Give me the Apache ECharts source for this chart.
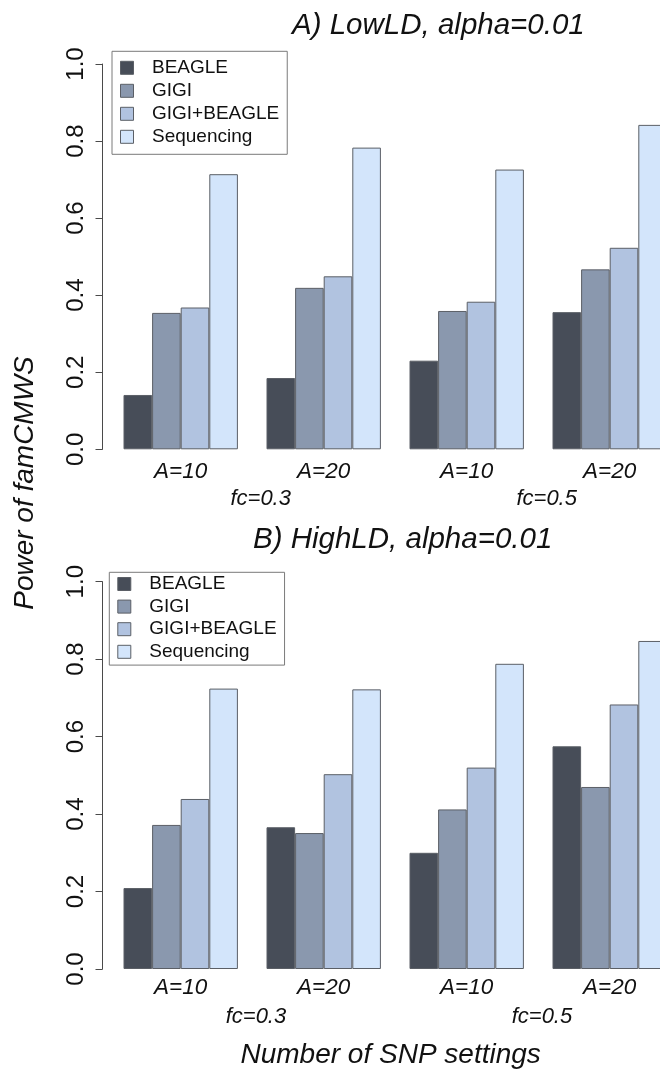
<!DOCTYPE html>
<html>
<head>
<meta charset="utf-8">
<script src="https://cdn.jsdelivr.net/npm/echarts@6/dist/echarts.min.js"></script>
<style>
  html, body { margin: 0; padding: 0; background: #ffffff; overflow: hidden; width: 660px; height: 1070px; }
  #chart { width: 700px; height: 1070px; }
</style>
</head>
<body>
<div id="chart"></div>
<script>
// ---- data ----
const groups = ['A=10', 'A=20', 'A=10', 'A=20'];
const fcLabels = ['fc=0.3', 'fc=0.5'];
const methods = ['BEAGLE', 'GIGI', 'GIGI+BEAGLE', 'Sequencing'];
const yTicks = [0, 0.2, 0.4, 0.6, 0.8, 1.0];

// Panel A: LowLD
const lowBEAGLE     = [0.141, 0.185, 0.230, 0.356];
const lowGIGI       = [0.354, 0.419, 0.359, 0.467];
const lowGIGIBEAGLE = [0.368, 0.449, 0.383, 0.523];
const lowSeq        = [0.714, 0.783, 0.726, 0.842];

// Panel B: HighLD
const highBEAGLE     = [0.209, 0.366, 0.300, 0.575];
const highGIGI       = [0.372, 0.351, 0.412, 0.470];
const highGIGIBEAGLE = [0.439, 0.503, 0.520, 0.683];
const highSeq        = [0.724, 0.722, 0.788, 0.847];

const titles = ['A) LowLD, alpha=0.01', 'B) HighLD, alpha=0.01'];
const yTitle = 'Power of famCMWS';
const xTitle = 'Number of SNP settings';

// ---- styling ----
const colors = ['#474d58', '#8a98ae', '#b1c3e0', '#d3e5fb'];
const FONT = '"Liberation Sans", Arial, Helvetica, sans-serif';
const INK = '#111111';
const AXIS = '#4a4a4a';

const lowData = [lowBEAGLE, lowGIGI, lowGIGIBEAGLE, lowSeq];
const highData = [highBEAGLE, highGIGI, highGIGIBEAGLE, highSeq];

const gridLeft = 109.2;
const gridWidth = 572;
const grids = [
  { left: gridLeft, top: 64, width: gridWidth, height: 385.3 },
  { left: gridLeft, top: 581.7, width: gridWidth, height: 387.3 }
];

function yAxisFor(gi) {
  return {
    type: 'value', gridIndex: gi, min: 0, max: 1, interval: 0.2,
    offset: 6.7,
    axisLine: { show: true, lineStyle: { color: AXIS, width: 1 } },
    axisTick: { show: true, length: 7, lineStyle: { color: AXIS, width: 1 } },
    splitLine: { show: false },
    axisLabel: {
      rotate: 90, margin: 14, fontSize: 24, fontFamily: FONT, color: INK,
      formatter: function (v) { return v.toFixed(1); }
    }
  };
}

function groupAxis(gi, margin) {
  return {
    type: 'category', gridIndex: gi, data: groups, position: 'bottom',
    axisLine: { show: false }, axisTick: { show: false },
    splitLine: { show: false },
    axisLabel: { margin: margin, fontSize: 22.5, fontStyle: 'italic', fontFamily: FONT, color: INK, interval: 0 }
  };
}
function fcAxis(gi, margin, shift) {
  return {
    type: 'category', gridIndex: gi, data: fcLabels, position: 'bottom',
    axisLine: { show: false }, axisTick: { show: false },
    splitLine: { show: false },
    axisLabel: { margin: margin, fontSize: 22, fontStyle: 'italic', fontFamily: FONT, color: INK, interval: 0,
                 padding: [0, 0, 0, shift] }
  };
}

const series = [];
[lowData, highData].forEach(function (panel, gi) {
  panel.forEach(function (vals, mi) {
    series.push({
      type: 'bar', name: methods[mi],
      xAxisIndex: gi * 2, yAxisIndex: gi,
      data: vals,
      barGap: '0%', barCategoryGap: '20%',
      itemStyle: { color: colors[mi], borderColor: '#5b5f66', borderWidth: 1 },
      emphasis: { disabled: true },
      animation: false
    });
  });
});

function legendFor(left, top, padding, gap) {
  return {
    data: methods, orient: 'vertical', left: left, top: top,
    padding: padding, itemGap: gap,
    itemWidth: 13, itemHeight: 13, icon: 'rect',
    itemStyle: { borderColor: '#5b5f66', borderWidth: 1 },
    borderColor: '#7a7a7a', borderWidth: 1, backgroundColor: '#ffffff',
    selectedMode: false,
    textStyle: { fontSize: 19, lineHeight: 19, fontFamily: FONT, color: INK, padding: [0, 0, 0, 13.5] }
  };
}

const option = {
  backgroundColor: '#ffffff',
  animation: false,
  color: colors,
  title: [
    { text: titles[0], left: 292, top: 10.5, padding: 0,
      textStyle: { fontSize: 29.5, fontStyle: 'italic', fontWeight: 'normal', fontFamily: FONT, color: INK } },
    { text: titles[1], left: 253, top: 524.5, padding: 0,
      textStyle: { fontSize: 29.5, fontStyle: 'italic', fontWeight: 'normal', fontFamily: FONT, color: INK } },
    { text: xTitle, left: 240.5, top: 1041, padding: 0,
      textStyle: { fontSize: 28, fontStyle: 'italic', fontWeight: 'normal', fontFamily: FONT, color: INK } }
  ],
  legend: [
    legendFor(112, 51.3, [7, 8, 8, 8], 4),
    legendFor(109.3, 572.3, [2.2, 8, 3.8, 8], 3.6)
  ],
  grid: grids,
  xAxis: [groupAxis(0, 11), fcAxis(0, 38.9, 17), groupAxis(1, 7.6), fcAxis(1, 36.8, 7.5)],
  yAxis: [yAxisFor(0), yAxisFor(1)],
  series: series,
  graphic: [{
    type: 'text', x: 25, y: 483, rotation: Math.PI / 2,
    style: {
      text: yTitle, fontSize: 28, fontStyle: 'italic', fontFamily: FONT, fill: INK,
      align: 'center', verticalAlign: 'middle',
      textAlign: 'center', textVerticalAlign: 'middle'
    }
  }]
};

const chart = echarts.init(document.getElementById('chart'), null, { renderer: 'canvas' });
chart.setOption(option);
</script>
</body>
</html>
